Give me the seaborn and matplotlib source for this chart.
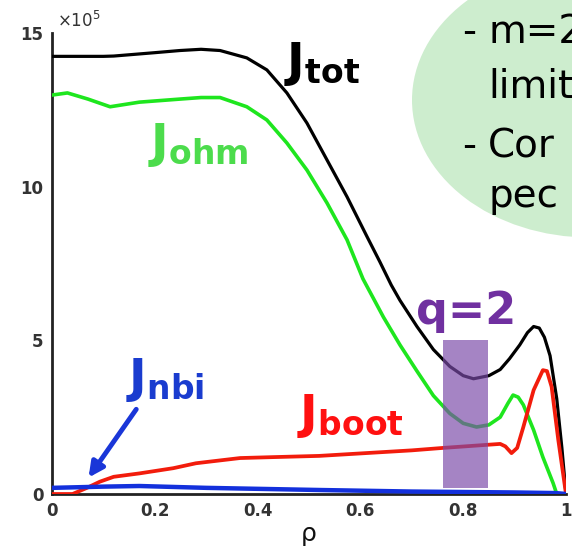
import matplotlib
matplotlib.use("Agg")
import matplotlib.pyplot as plt
import matplotlib.patches as mpatches
import seaborn as sns
import pandas as pd

# ---- data (units of 1e5) ----
x_tot = [0.0, 0.05, 0.10, 0.12, 0.20, 0.249, 0.29, 0.327, 0.379, 0.418, 0.457, 0.496, 0.535,
         0.574, 0.613, 0.638, 0.66, 0.677, 0.71, 0.742, 0.774, 0.80, 0.82, 0.85, 0.872, 0.89, 0.91,
         0.925, 0.937, 0.948, 0.958, 0.969, 0.982, 0.992, 1.0]
y_tot = [14.24, 14.24, 14.24, 14.25, 14.36, 14.43, 14.47, 14.43, 14.19, 13.8, 13.05, 12.07, 10.87,
         9.67, 8.37, 7.55, 6.8, 6.3, 5.45, 4.7, 4.15, 3.85, 3.75, 3.85, 4.05, 4.4, 4.85,
         5.25, 5.45, 5.4, 5.1, 4.5, 3.1, 1.5, 0.0]

x_ohm = [0.0, 0.03, 0.07, 0.113, 0.17, 0.249, 0.29, 0.327, 0.379, 0.418, 0.457, 0.496, 0.535,
         0.574, 0.605, 0.645, 0.677, 0.71, 0.742, 0.774, 0.80, 0.826, 0.85, 0.872, 0.887, 0.897,
         0.907, 0.917, 0.937, 0.955, 0.975, 0.982, 1.0]
y_ohm = [12.98, 13.05, 12.85, 12.6, 12.75, 12.85, 12.9, 12.9, 12.6, 12.17, 11.42, 10.54, 9.47,
         8.27, 7.0, 5.75, 4.85, 4.0, 3.2, 2.62, 2.3, 2.18, 2.25, 2.5, 2.95, 3.22,
         3.15, 2.9, 2.08, 1.2, 0.35, 0.0, 0.0]

x_boot = [0.0, 0.04, 0.068, 0.093, 0.12, 0.17, 0.236, 0.28, 0.30, 0.366, 0.43, 0.52, 0.60, 0.70,
          0.761, 0.872, 0.882, 0.894, 0.905, 0.917, 0.937, 0.955, 0.963, 0.972, 0.985, 1.0]
y_boot = [0.0, 0.0, 0.2, 0.4, 0.56, 0.67, 0.84, 1.0, 1.04, 1.17, 1.2, 1.24, 1.32, 1.42,
          1.5, 1.63, 1.55, 1.33, 1.5, 2.18, 3.38, 4.03, 4.0, 3.49, 1.76, 0.0]

x_nbi = [0.0, 0.10, 0.17, 0.30, 0.52, 0.70, 0.90, 0.98, 1.0]
y_nbi = [0.2, 0.24, 0.26, 0.2, 0.13, 0.08, 0.05, 0.03, 0.0]

xticks = [0, 0.2, 0.4, 0.6, 0.8, 1]
xticklabels = ["0", "0.2", "0.4", "0.6", "0.8", "1"]
yticks = [0, 5, 10, 15]
yticklabels = ["0", "5", "10", "15"]

q2_band = (0.761, 0.848)
q2_height = (0.2, 5.0)

sns.set_style("white")
plt.rcParams['font.family'] = ['DejaVu Sans']

fig = plt.figure(figsize=(5.72, 5.5), dpi=100)
W, H = 572, 550
ax = fig.add_axes([52 / W, 56 / H, 514 / W, 461 / H])

df_tot = pd.DataFrame({"x": x_tot, "y": y_tot})
df_ohm = pd.DataFrame({"x": x_ohm, "y": y_ohm})
df_boot = pd.DataFrame({"x": x_boot, "y": y_boot})
df_nbi = pd.DataFrame({"x": x_nbi, "y": y_nbi})

sns.lineplot(data=df_tot, x="x", y="y", ax=ax, color="black", lw=2.3, sort=False, zorder=3)
sns.lineplot(data=df_ohm, x="x", y="y", ax=ax, color="#1ee61e", lw=2.6, sort=False, zorder=3)
sns.lineplot(data=df_boot, x="x", y="y", ax=ax, color="#f21c0c", lw=2.7, sort=False, zorder=4)
sns.lineplot(data=df_nbi, x="x", y="y", ax=ax, color="#1330dc", lw=3.2, sort=False, zorder=5)

ax.set_xlim(0, 1)
ax.set_ylim(0, 15)
ax.set_xticks(xticks)
ax.set_xticklabels(xticklabels)
ax.set_yticks(yticks)
ax.set_yticklabels(yticklabels)
for lab in ax.get_xticklabels() + ax.get_yticklabels():
    lab.set_fontweight("bold")
    lab.set_fontsize(12)
    lab.set_color("#333333")
ax.tick_params(direction="in", length=4, width=1.5, color="#222222", pad=6)
ax.set_xlabel("ρ", fontsize=18, labelpad=1, color="#111111")
ax.set_ylabel("")
for s in ["top", "right"]:
    ax.spines[s].set_visible(False)
for s in ["left", "bottom"]:
    ax.spines[s].set_color("#222222")
    ax.spines[s].set_linewidth(2)
ax.patch.set_alpha(0)

ax.text(0.01, 1.005, r"$\times10^5$", transform=ax.transAxes, fontsize=12,
        color="#333333", ha="left", va="bottom")

# q=2 band
ax.add_patch(mpatches.Rectangle((q2_band[0], q2_height[0]), q2_band[1] - q2_band[0],
                                q2_height[1] - q2_height[0], color="#7a4aa8", alpha=0.68,
                                lw=0, zorder=6))
ax.text(0.805, 5.95, "q=2", color="#7030a0", fontsize=32, fontweight="bold",
        ha="center", va="center", zorder=7)

# labels
ax.text(0.525, 14.0, r"$\mathbf{J_{tot}}$", color="black", fontsize=34, ha="center", va="center", zorder=7)
ax.text(0.285, 11.35, r"$\mathbf{J_{ohm}}$", color="#4cdc4c", fontsize=34, ha="center", va="center", zorder=7)
ax.text(0.22, 3.7, r"$\mathbf{J_{nbi}}$", color="#1a3ccf", fontsize=34, ha="center", va="center", zorder=7)
ax.text(0.58, 2.55, r"$\mathbf{J_{boot}}$", color="#ff1010", fontsize=34, ha="center", va="center", zorder=7)
ax.annotate("", xy=(0.068, 0.46), xytext=(0.167, 2.83),
            arrowprops=dict(arrowstyle="-|>", color="#1a36d8", lw=3.5, mutation_scale=22),
            zorder=7)

# green ellipse callout (figure pixel coords)
ell = mpatches.Ellipse((590 / W, 1 - 100 / H), 356 / W, 275 / H, transform=fig.transFigure,
                       facecolor="#cdedce", edgecolor="none", zorder=0)
fig.add_artist(ell)
lines = [("-", "m=2", 43), ("", "limit", 98), ("-", "Cor", 157), ("", "pec", 207)]
for dash, word, base in lines:
    if dash:
        fig.text(462 / W, 1 - base / H, dash, fontsize=28, color="black", ha="left",
                 va="baseline", family="DejaVu Sans")
    fig.text(488 / W, 1 - base / H, word, fontsize=28, color="black", ha="left",
             va="baseline", family="DejaVu Sans")

fig.savefig("out.png", dpi=100)
